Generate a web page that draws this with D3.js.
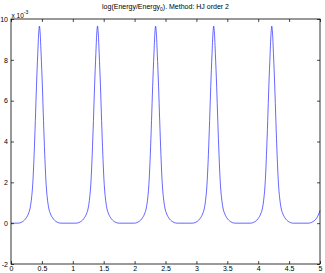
<!DOCTYPE html>
<html>
<head>
<meta charset="utf-8">
<script src="https://cdn.jsdelivr.net/npm/d3@7.9.0/dist/d3.min.js"></script>
<style>
  html, body { margin: 0; padding: 0; background: #fff; }
  svg { display: block; font-family: "Liberation Sans", Arial, Helvetica, sans-serif; }
  .tick text { font-size: 7px; fill: #000; }
  .tick line { stroke: #000; stroke-width: 0.7; }
</style>
</head>
<body>
<svg width="325" height="273"></svg>
<script>
// time (x) and log energy ratio (y, in units of 1e-3)
const t = [
  0, 0.11, 0.16, 0.19, 0.245, 0.28, 0.31, 0.335, 0.35, 0.374, 0.394, 0.412, 0.433, 0.448, 0.46,
  0.472, 0.487, 0.508, 0.526, 0.546, 0.57, 0.585, 0.61, 0.64, 0.675, 0.73, 0.76, 0.81,
  1.05, 1.10, 1.13, 1.185, 1.22, 1.25, 1.275, 1.29, 1.314, 1.334, 1.352, 1.373, 1.388, 1.40,
  1.412, 1.427, 1.448, 1.466, 1.486, 1.51, 1.525, 1.55, 1.58, 1.615, 1.67, 1.70, 1.75,
  1.99, 2.04, 2.07, 2.125, 2.16, 2.19, 2.215, 2.23, 2.254, 2.274, 2.292, 2.313, 2.328, 2.34,
  2.352, 2.367, 2.388, 2.406, 2.426, 2.45, 2.465, 2.49, 2.52, 2.555, 2.61, 2.64, 2.69,
  2.93, 2.98, 3.01, 3.065, 3.10, 3.13, 3.155, 3.17, 3.194, 3.214, 3.232, 3.253, 3.268, 3.28,
  3.292, 3.307, 3.328, 3.346, 3.366, 3.39, 3.405, 3.43, 3.46, 3.495, 3.55, 3.58, 3.63,
  3.87, 3.92, 3.95, 4.005, 4.04, 4.07, 4.095, 4.11, 4.134, 4.154, 4.172, 4.193, 4.208, 4.22,
  4.232, 4.247, 4.268, 4.286, 4.306, 4.33, 4.345, 4.37, 4.40, 4.435, 4.49, 4.52, 4.57,
  4.81, 4.86, 4.89, 4.945, 4.98, 5.0
];
const logE = [
  0, 0, 0.03, 0.08, 0.25, 0.45, 0.75, 1.3, 1.83, 3.35, 5.03, 6.68, 8.3, 9.3, 9.65,
  9.3, 8.3, 6.68, 5.03, 3.35, 1.83, 1.3, 0.75, 0.45, 0.25, 0.08, 0.03, 0,
  0, 0.03, 0.08, 0.25, 0.45, 0.75, 1.3, 1.83, 3.35, 5.03, 6.68, 8.3, 9.3, 9.65,
  9.3, 8.3, 6.68, 5.03, 3.35, 1.83, 1.3, 0.75, 0.45, 0.25, 0.08, 0.03, 0,
  0, 0.03, 0.08, 0.25, 0.45, 0.75, 1.3, 1.83, 3.35, 5.03, 6.68, 8.3, 9.3, 9.65,
  9.3, 8.3, 6.68, 5.03, 3.35, 1.83, 1.3, 0.75, 0.45, 0.25, 0.08, 0.03, 0,
  0, 0.03, 0.08, 0.25, 0.45, 0.75, 1.3, 1.83, 3.35, 5.03, 6.68, 8.3, 9.3, 9.65,
  9.3, 8.3, 6.68, 5.03, 3.35, 1.83, 1.3, 0.75, 0.45, 0.25, 0.08, 0.03, 0,
  0, 0.03, 0.08, 0.25, 0.45, 0.75, 1.3, 1.83, 3.35, 5.03, 6.68, 8.3, 9.3, 9.65,
  9.3, 8.3, 6.68, 5.03, 3.35, 1.83, 1.3, 0.75, 0.45, 0.25, 0.08, 0.03, 0,
  0, 0.03, 0.08, 0.25, 0.45, 0.62
];
const xTicks = [0, 0.5, 1, 1.5, 2, 2.5, 3, 3.5, 4, 4.5, 5];
const yTicks = [-2, 0, 2, 4, 6, 8, 10];

const svg = d3.select('svg');
const mLeft = 11, mRight = 320, mTop = 19, mBottom = 264;

const x = d3.scaleLinear().domain([0, 5]).range([mLeft, mRight]);
const y = d3.scaleLinear().domain([-2, 10]).range([mBottom, mTop]);

// curve
const line = d3.line()
  .x((d, i) => x(t[i]))
  .y((d) => y(d))
  .curve(d3.curveMonotoneX);

svg.append('path')
  .attr('d', line(logE))
  .attr('fill', 'none')
  .attr('stroke', '#0000ff')
  .attr('stroke-width', 0.6);

// axes, ticks pointing inward like matlab
const fmt = (d) => String(d);

svg.append('g')
  .attr('transform', `translate(0,${mBottom})`)
  .call(d3.axisBottom(x).tickValues(xTicks).tickFormat(fmt).tickSizeInner(-3).tickSizeOuter(0).tickPadding(2));
svg.append('g')
  .attr('transform', `translate(0,${mTop})`)
  .call(d3.axisTop(x).tickValues(xTicks).tickFormat('').tickSizeInner(-3).tickSizeOuter(0));
svg.append('g')
  .attr('transform', `translate(${mLeft},0)`)
  .call(d3.axisLeft(y).tickValues(yTicks).tickFormat(fmt).tickSizeInner(-3).tickSizeOuter(0).tickPadding(3));
svg.append('g')
  .attr('transform', `translate(${mRight},0)`)
  .call(d3.axisRight(y).tickValues(yTicks).tickFormat('').tickSizeInner(-3).tickSizeOuter(0));

svg.selectAll('.domain').remove();
svg.selectAll('g').attr('font-family', null).attr('font-size', null);

svg.append('rect')
  .attr('x', mLeft)
  .attr('y', mTop)
  .attr('width', mRight - mLeft)
  .attr('height', mBottom - mTop)
  .attr('fill', 'none')
  .attr('stroke', '#000')
  .attr('stroke-width', 0.8);

// exponent label
const ex = svg.append('text')
  .attr('x', mLeft + 0.5)
  .attr('y', mTop - 1.5)
  .attr('font-size', 6.5);
ex.append('tspan').text('x 10');
ex.append('tspan').attr('dy', -3.5).attr('font-size', 5).text('-3');

// title
const title = svg.append('text')
  .attr('x', (mLeft + mRight) / 2)
  .attr('y', 9)
  .attr('text-anchor', 'middle')
  .attr('font-size', 7);
title.append('tspan').text('log(Energy/Energy');
title.append('tspan').attr('dy', 2).attr('font-size', 5).text('0');
title.append('tspan').attr('dy', -2).text('). Method: HJ order 2');
</script>
</body>
</html>
